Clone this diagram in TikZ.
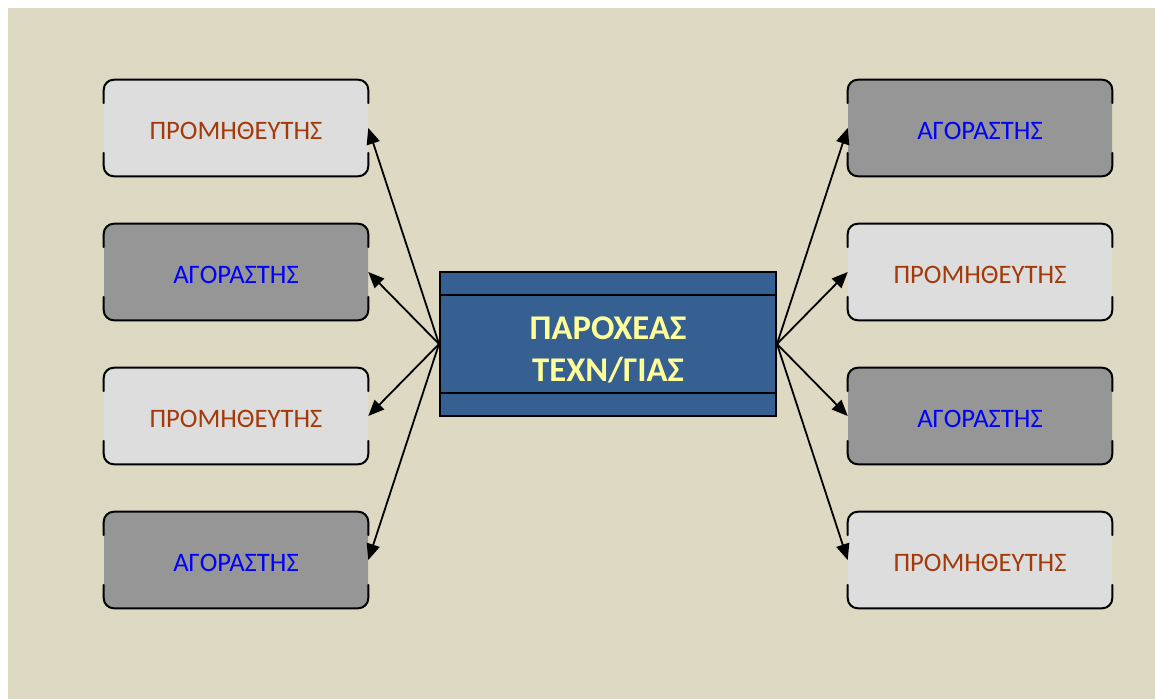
\documentclass[tikz,border=0pt]{standalone}
\usepackage{fontspec}
\setmainfont{Carlito}
\usetikzlibrary{arrows.meta,calc}
\definecolor{paper}{HTML}{DDD9C3}
\definecolor{lightbox}{HTML}{DDDDDD}
\definecolor{darkbox}{HTML}{969696}
\definecolor{hubblue}{HTML}{366092}
\definecolor{hubtext}{HTML}{FFFF99}
\definecolor{suppliertext}{HTML}{A33A0C}
\definecolor{buyertext}{HTML}{0000FF}
% labels sit a little below the middle of their boxes
\newcommand{\lowered}[2]{\raisebox{#1}[\height][\depth]{\begin{tabular}{@{}c@{}}#2\end{tabular}}}
\tikzset{
  party/.style={rectangle, rounded corners=7.5pt, minimum width=198pt, minimum height=72pt,
    inner sep=0pt, font=\fontsize{20}{24}\selectfont},
  supplier/.style={party, fill=lightbox, text=suppliertext},
  buyer/.style={party, fill=darkbox, text=buyertext},
  hub/.style={rectangle, draw=black, line width=1.5pt, fill=hubblue, minimum width=252pt,
    minimum height=108pt, inner sep=0pt, text=hubtext, align=center,
    font=\bfseries\fontsize{26}{31.5}\selectfont},
  edge/.style={line cap=round, line width=1.5pt, rounded corners=7.5pt},
  link/.style={line width=1.35pt, -{Triangle[length=12pt,width=10pt]}}
}
\begin{document}
\begin{tikzpicture}[x=0.75pt,y=-0.75pt]
  % page and background
  \fill[white] (0,0) rectangle (1155,699);
  \fill[paper] (8,8) rectangle (1155,699);

  % central provider
  \node[hub] (hub) at (608,344) {\lowered{-6pt}{ΠΑΡΟΧΕΑΣ\\[0.5pt]ΤΕΧΝ/ΓΙΑΣ}};
  \draw[line width=1.5pt] ([yshift=-18pt]hub.north west) -- ([yshift=-18pt]hub.north east);
  \draw[line width=1.5pt] ([yshift=18pt]hub.south west) -- ([yshift=18pt]hub.south east);

  % left column
  \node[supplier] (l1) at (236,128) {\lowered{-3.5pt}{ΠΡΟΜΗΘΕΥΤΗΣ}};
  \node[buyer]    (l2) at (236,272) {\lowered{-3.5pt}{ΑΓΟΡΑΣΤΗΣ}};
  \node[supplier] (l3) at (236,416) {\lowered{-3.5pt}{ΠΡΟΜΗΘΕΥΤΗΣ}};
  \node[buyer]    (l4) at (236,560) {\lowered{-3.5pt}{ΑΓΟΡΑΣΤΗΣ}};
  % right column
  \node[buyer]    (r1) at (980,128) {\lowered{-3.5pt}{ΑΓΟΡΑΣΤΗΣ}};
  \node[supplier] (r2) at (980,272) {\lowered{-3.5pt}{ΠΡΟΜΗΘΕΥΤΗΣ}};
  \node[buyer]    (r3) at (980,416) {\lowered{-3.5pt}{ΑΓΟΡΑΣΤΗΣ}};
  \node[supplier] (r4) at (980,560) {\lowered{-3.5pt}{ΠΡΟΜΗΘΕΥΤΗΣ}};

  % box outlines: the middle of each side is left open
  \foreach \n in {l1,l2,l3,l4,r1,r2,r3,r4}{
    \draw[edge] ([yshift=-17.5pt]\n.north west) -- (\n.north west) -- (\n.north east)
      -- ([yshift=-17.5pt]\n.north east);
    \draw[edge] ([yshift=17.5pt]\n.south west) -- (\n.south west) -- (\n.south east)
      -- ([yshift=17.5pt]\n.south east);
  }

  % connectors
  \foreach \n in {l1,l2,l3,l4}
    \draw[link] (hub.west) -- (\n.east);
  \foreach \n in {r1,r2,r3,r4}
    \draw[link] (hub.east) -- (\n.west);
\end{tikzpicture}
\end{document}
